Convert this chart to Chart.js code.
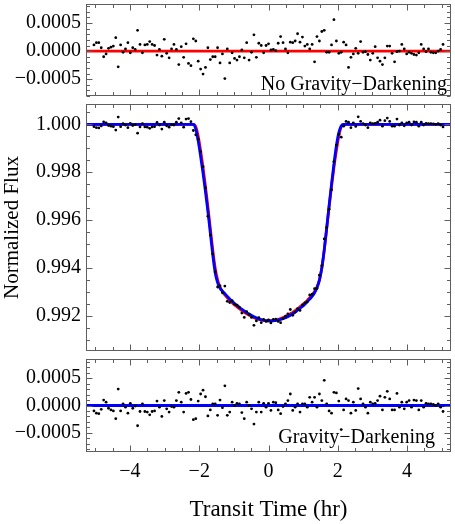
<!DOCTYPE html>
<html><head><meta charset="utf-8">
<script src="https://cdn.jsdelivr.net/npm/chart.js@4"></script>
<style>
html,body{margin:0;padding:0;background:#fff;width:455px;height:524px;overflow:hidden;}
canvas{position:absolute;left:0;}
</style></head><body>
<canvas id="cTop" width="455" height="100" style="top:0px"></canvas>
<canvas id="cMain" width="455" height="255" style="top:100px"></canvas>
<canvas id="cBot" width="455" height="169" style="top:355px"></canvas>
<script>
// ---- data ----
const times = [
-5.04,-4.97,-4.90,-4.83,-4.76,-4.69,-4.62,-4.55,-4.48,-4.41,
-4.34,-4.27,-4.20,-4.13,-4.06,-3.99,-3.92,-3.85,-3.78,-3.71,
-3.64,-3.57,-3.50,-3.43,-3.36,-3.29,-3.22,-3.15,-3.08,-3.01,
-2.94,-2.87,-2.80,-2.73,-2.66,-2.59,-2.52,-2.45,-2.38,-2.31,
-2.24,-2.17,-2.10,-2.03,-1.96,-1.89,-1.82,-1.75,-1.68,-1.61,
-1.54,-1.47,-1.40,-1.33,-1.26,-1.19,-1.12,-1.05,-0.98,-0.91,
-0.84,-0.77,-0.70,-0.63,-0.56,-0.49,-0.42,-0.35,-0.28,-0.21,
-0.14,-0.07,0.00,0.07,0.14,0.21,0.28,0.35,0.42,0.49,
0.56,0.63,0.70,0.77,0.84,0.91,0.98,1.05,1.12,1.19,
1.26,1.33,1.40,1.47,1.54,1.61,1.68,1.75,1.82,1.89,
1.96,2.03,2.10,2.17,2.24,2.31,2.38,2.45,2.52,2.59,
2.66,2.73,2.80,2.87,2.94,3.01,3.08,3.15,3.22,3.29,
3.36,3.43,3.50,3.57,3.64,3.71,3.78,3.85,3.92,3.99,
4.06,4.13,4.20,4.27,4.34,4.41,4.48,4.55,4.62,4.69,
4.76,4.83,4.90,4.97,5.04];

const flux = [
0.99990,0.99986,0.99985,0.99993,1.00010,1.00006,0.99995,0.99992,0.99990,0.99976,
1.00030,0.99990,1.00003,0.99997,0.99986,1.00004,0.99995,0.99999,0.99963,0.99989,
1.00003,0.99989,0.99988,0.99983,0.99989,0.99990,1.00008,0.99997,0.99980,1.00009,
0.99994,0.99988,0.99998,0.99997,1.00009,1.00024,1.00006,0.99988,1.00022,1.00024,
1.00011,0.99974,0.99956,0.99938,0.99886,0.99823,0.99734,0.99616,0.99537,0.99458,
0.99383,0.99320,0.99325,0.99296,0.99324,0.99260,0.99255,0.99263,0.99248,0.99244,
0.99235,0.99211,0.99193,0.99217,0.99205,0.99193,0.99160,0.99178,0.99192,0.99171,
0.99185,0.99176,0.99182,0.99170,0.99185,0.99186,0.99176,0.99171,0.99188,0.99198,
0.99208,0.99226,0.99202,0.99215,0.99229,0.99222,0.99245,0.99254,0.99258,0.99287,
0.99290,0.99313,0.99314,0.99369,0.99409,0.99521,0.99568,0.99645,0.99726,0.99844,
0.99913,0.99958,0.99946,0.99992,1.00012,1.00009,0.99986,1.00006,0.99991,1.00031,
1.00012,1.00003,0.99997,0.99986,1.00006,1.00003,1.00004,1.00009,1.00017,0.99992,
1.00015,1.00026,1.00012,0.99992,0.99992,1.00022,0.99997,1.00006,0.99994,1.00006,
1.00009,0.99997,1.00010,1.00009,0.99992,1.00009,0.99997,1.00004,1.00003,1.00003,
1.00002,1.00000,1.00003,0.99997,0.99989];

const residNoGD = [
1.1e-4,1.5e-4,1.5e-4,0.6e-4,-1.0e-4,-0.5e-4,0.5e-4,0.7e-4,0.9e-4,2.4e-4,
-2.8e-4,1.1e-4,-0.2e-4,0.4e-4,1.5e-4,-0.3e-4,0.6e-4,0.3e-4,3.7e-4,1.2e-4,
-0.3e-4,1.1e-4,1.2e-4,1.7e-4,1.2e-4,1.0e-4,-0.7e-4,0.3e-4,-0.9e-4,2.1e-4,
-0.4e-4,-1.2e-4,0.4e-4,1.2e-4,0.3e-4,-2.4e-4,0.8e-4,-1.1e-4,1.3e-4,-2.2e-4,
-2.6e-4,2.2e-4,1.8e-4,-1.8e-4,-3.2e-4,-4.1e-4,-2.9e-4,0.6e-4,-1.5e-4,-1.0e-4,
-1.0e-4,0.6e-4,-2.1e-4,-0.5e-4,-4.9e-4,0.4e-4,-2.1e-4,-0.3e-4,-1.3e-4,-1.6e-4,
-1.0e-4,0.2e-4,-1.2e-4,1.5e-4,-1.6e-4,-0.2e-4,2.9e-4,-1.1e-4,1.4e-4,1.0e-4,
-0.3e-4,1.0e-4,1.3e-4,0.2e-4,0.3e-4,0.1e-4,1.4e-4,2.6e-4,1.5e-4,0.4e-4,
-0.3e-4,1.6e-4,1.5e-4,1.8e-4,3.1e-4,1.6e-4,2.5e-4,0.9e-4,1.2e-4,0.4e-4,
1.2e-4,-1.9e-4,2.6e-4,1.8e-4,3.5e-4,3.7e-4,-0.2e-4,-0.2e-4,1.1e-4,5.6e-4,
1.8e-4,-0.4e-4,-0.2e-4,1.6e-4,1.1e-4,-2.9e-4,-1.1e-4,-0.5e-4,0.5e-4,-0.4e-4,
1.7e-4,-0.2e-4,-0.1e-4,-0.6e-4,-1.6e-4,-0.4e-4,0.8e-4,-1.2e-4,-1.8e-4,-2.4e-4,
-1.2e-4,0.9e-4,0.9e-4,-0.4e-4,-1.9e-4,-0.1e-4,0.0,1.2e-4,0.4e-4,-0.5e-4,
-0.2e-4,-0.4e-4,-0.6e-4,-0.7e-4,-0.3e-4,1.2e-4,0.4e-4,-0.1e-4,0.4e-4,-0.2e-4,
-0.3e-4,-0.3e-4,0.0,0.3e-4,1.2e-4];

const residGD = [
-1.0e-4,-1.4e-4,-1.5e-4,-0.7e-4,1.0e-4,0.6e-4,-0.5e-4,-0.8e-4,-1.0e-4,-2.4e-4,
3.0e-4,-1.0e-4,0.3e-4,-0.3e-4,-1.4e-4,0.4e-4,-0.5e-4,-0.1e-4,-3.7e-4,-1.1e-4,
0.3e-4,-1.1e-4,-1.2e-4,-1.7e-4,-1.1e-4,-1.0e-4,0.8e-4,-0.3e-4,-2.0e-4,0.9e-4,
-0.6e-4,-1.2e-4,-0.2e-4,-0.3e-4,0.9e-4,2.4e-4,0.6e-4,-1.2e-4,2.2e-4,2.4e-4,
1.1e-4,-2.6e-4,-2.4e-4,0.8e-4,2.1e-4,2.8e-4,1.6e-4,-1.9e-4,-0.8e-4,0.3e-4,
0.3e-4,-1.8e-4,1.0e-4,-0.4e-4,3.6e-4,-1.8e-4,-1.2e-4,0.6e-4,0.0,0.4e-4,
0.3e-4,-1.3e-4,-2.4e-4,0.6e-4,0.0,-0.6e-4,-3.4e-4,-1.2e-4,0.6e-4,-1.2e-4,
0.4e-4,-0.3e-4,0.4e-4,-0.9e-4,0.6e-4,0.5e-4,-0.8e-4,-1.5e-4,-0.2e-4,0.3e-4,
0.9e-4,2.1e-4,-0.9e-4,-0.3e-4,0.3e-4,-1.2e-4,0.3e-4,0.3e-4,-0.3e-4,1.5e-4,
0.6e-4,1.5e-4,-0.3e-4,2.1e-4,0.9e-4,4.6e-4,0.3e-4,-1.0e-4,-1.4e-4,2.4e-4,
2.3e-4,0.8e-4,-4.4e-4,-0.8e-4,1.2e-4,0.9e-4,-1.4e-4,0.6e-4,-0.9e-4,3.1e-4,
1.2e-4,0.3e-4,-0.3e-4,-1.4e-4,0.6e-4,0.3e-4,0.4e-4,0.9e-4,1.7e-4,-0.8e-4,
1.5e-4,2.6e-4,1.2e-4,-0.8e-4,-0.8e-4,2.2e-4,-0.3e-4,0.6e-4,-0.6e-4,0.6e-4,
0.9e-4,-0.3e-4,1.0e-4,0.9e-4,-0.8e-4,0.9e-4,-0.3e-4,0.4e-4,0.3e-4,0.3e-4,
0.2e-4,0.0,0.3e-4,-0.3e-4,-1.1e-4];

const modelTimes = [
-5.27,-2.24,-2.17,-2.10,-2.03,-1.96,-1.89,-1.82,-1.75,-1.68,-1.61,-1.54,-1.47,-1.40,
-1.33,-1.26,-1.19,-1.12,-1.05,-0.98,-0.91,-0.84,-0.77,-0.70,-0.63,-0.56,-0.49,-0.42,
-0.35,-0.28,-0.21,-0.14,-0.07,0.00,0.07,0.14,0.21,0.28,0.35,0.42,0.49,0.56,0.63,0.70,
0.77,0.84,0.91,0.98,1.05,1.12,1.19,1.26,1.33,1.40,1.47,1.54,1.61,1.68,1.75,1.82,1.89,
1.96,2.03,2.10,2.17,2.24,5.27];

const modelNoGD = [
1.00000,1.00000,1.00000,0.99990,0.99950,0.99890,0.99820,0.99740,0.99655,0.99565,0.99475,0.99400,0.99350,0.99320,
0.99301,0.99287,0.99275,0.99264,0.99254,0.99245,0.99237,0.99229,0.99221,0.99214,0.99208,0.99202,0.99197,0.99192,
0.99188,0.99185,0.99182,0.99180,0.99179,0.99178,0.99179,0.99180,0.99182,0.99185,0.99188,0.99192,0.99197,0.99202,0.99208,0.99214,
0.99221,0.99229,0.99237,0.99245,0.99254,0.99264,0.99275,0.99287,0.99301,0.99320,0.99350,0.99400,0.99475,0.99565,0.99655,0.99740,0.99820,
0.99890,0.99950,0.99990,1.00000,1.00000,1.00000];

const modelGD = [
1.00000,1.00000,1.00000,0.99980,0.99930,0.99865,0.99795,0.99718,0.99635,0.99545,0.99455,0.99380,0.99338,0.99315,
0.99303,0.99292,0.99281,0.99270,0.99260,0.99251,0.99243,0.99235,0.99227,0.99220,0.99213,0.99207,0.99201,0.99196,
0.99191,0.99187,0.99184,0.99181,0.99179,0.99178,0.99178,0.99179,0.99180,0.99182,0.99185,0.99188,0.99192,0.99196,0.99202,0.99208,
0.99215,0.99223,0.99231,0.99239,0.99248,0.99258,0.99269,0.99281,0.99296,0.99317,0.99348,0.99400,0.99475,0.99565,0.99660,0.99750,0.99835,
0.99910,0.99965,0.99993,1.00000,1.00000,1.00000];

const zeroTimes = [-5.27, 5.27];
const zeroLine = [0, 0];

const xTicks = [-4, -2, 0, 2, 4];
const xTickLabels = ['\u22124', '\u22122', '0', '2', '4'];
const fluxTicks = [0.992, 0.994, 0.996, 0.998, 1.000];
const fluxTickLabels = ['0.992', '0.994', '0.996', '0.998', '1.000'];
const residTicks = [-0.0005, 0, 0.0005];
const residTickLabels = ['\u22120.0005', '0.0000', '0.0005'];

// ---- rendering ----
const FONT = "'Liberation Serif','Times New Roman',serif";
const X_MIN = -5.27, X_MAX = 5.27;
const pts = (xs, ys) => xs.map((t, i) => ({x: t, y: ys[i]}));

function framePlugin(cfg) {
  return {
    id: 'frameTicks',
    afterDatasetsDraw(chart) {
      const {ctx, chartArea: a, scales: {x, y}} = chart;
      ctx.save();
      ctx.strokeStyle = '#5f5f5f';
      ctx.lineWidth = 1;
      const L = Math.round(a.left) + 0.5, R = Math.round(a.right) - 0.5;
      const T = Math.round(a.top) + 0.5, B = Math.round(a.bottom) - 0.5;
      ctx.beginPath();
      for (let k = -12; k <= 12; k++) {
        const v = k * 0.5;
        if (v < x.min || v > x.max) continue;
        const len = (k % 4 === 0) ? 6 : 3.5;
        const px = Math.round(x.getPixelForValue(v)) + 0.5;
        ctx.moveTo(px, B); ctx.lineTo(px, B - len);
        ctx.moveTo(px, T); ctx.lineTo(px, T + len);
      }
      const k0 = Math.ceil(y.min / cfg.minor - 1e-6), k1 = Math.floor(y.max / cfg.minor + 1e-6);
      for (let k = k0; k <= k1; k++) {
        const v = k * cfg.minor;
        const len = (k % cfg.every === 0) ? 6 : 3.5;
        const py = Math.round(y.getPixelForValue(v)) + 0.5;
        ctx.moveTo(L, py); ctx.lineTo(L + len, py);
        ctx.moveTo(R, py); ctx.lineTo(R - len, py);
      }
      ctx.stroke();
      ctx.strokeRect(L, T, R - L, B - T);
      if (cfg.label) {
        ctx.fillStyle = '#000';
        ctx.font = '20px ' + FONT;
        ctx.textAlign = 'right';
        ctx.textBaseline = 'alphabetic';
        ctx.fillText(cfg.label, cfg.lx, cfg.ly);
      }
      ctx.restore();
    }
  };
}

function makeChart(id, datasets, o) {
  return new Chart(document.getElementById(id), {
    type: 'scatter',
    data: {datasets},
    options: {
      responsive: false, animation: false, devicePixelRatio: 1, events: [],
      layout: {padding: {top: o.padTop, bottom: o.padBottom, left: 0, right: 1}},
      plugins: {legend: {display: false}, tooltip: {enabled: false}},
      scales: {
        x: {
          type: 'linear', min: X_MIN, max: X_MAX, display: !!o.showX,
          grid: {display: false, drawTicks: false}, border: {display: false},
          ticks: {display: !!o.showX, padding: 8, color: '#000', font: {family: FONT, size: 20},
                  maxRotation: 0, callback: (v, i) => xTickLabels[i]},
          afterBuildTicks: s => { s.ticks = xTicks.map(v => ({value: v})); },
          afterFit: s => { s.paddingLeft = 0; s.paddingRight = 0; if (o.showX) s.height = o.xHeight; },
          title: {display: !!o.showX, text: 'Transit Time (hr)', color: '#000',
                  font: {family: FONT, size: 23}, padding: {top: 0, bottom: 0}}
        },
        y: {
          type: 'linear', min: o.yMin, max: o.yMax,
          grid: {display: false, drawTicks: false}, border: {display: false},
          ticks: {padding: 5, color: '#000', font: {family: FONT, size: 20},
                  callback: (v, i) => o.yLabels[i]},
          afterBuildTicks: s => { s.ticks = o.yTicks.map(v => ({value: v})); },
          afterFit: s => { s.width = 86; s.paddingTop = 0; s.paddingBottom = 0; },
          title: {display: !!o.yTitle, text: o.yTitle || '', color: '#000',
                  font: {family: FONT, size: 21}, padding: {top: 0, bottom: 0}}
        }
      }
    },
    plugins: [framePlugin(o.frame)]
  });
}

const dotStyle = {showLine: false, pointRadius: 1.4, pointBackgroundColor: '#000', pointBorderWidth: 0, order: 0};
const lineStyle = c => ({showLine: true, pointRadius: 0, borderColor: c, borderWidth: 2.8,
                        cubicInterpolationMode: 'monotone', fill: false});

makeChart('cTop', [
  Object.assign({data: pts(times, residNoGD)}, dotStyle),
  Object.assign({data: pts(zeroTimes, zeroLine), order: 1}, lineStyle('#ff0000'))
], {padTop: 4, padBottom: 3, yMin: -0.00080, yMax: 0.00084, yTicks: residTicks, yLabels: residTickLabels,
    frame: {minor: 0.0001, every: 5, label: 'No Gravity\u2212Darkening', lx: 447, ly: 90}});

makeChart('cMain', [
  Object.assign({data: pts(times, flux)}, dotStyle),
  Object.assign({data: pts(modelTimes, modelGD), order: 1}, lineStyle('#0000ff')),
  Object.assign({data: pts(modelTimes, modelNoGD), order: 2}, lineStyle('#ff0000'))
], {padTop: 4, padBottom: 4, yMin: 0.990525, yMax: 1.000848, yTicks: fluxTicks, yLabels: fluxTickLabels,
    yTitle: 'Normalized Flux', frame: {minor: 0.0005, every: 4}});

makeChart('cBot', [
  Object.assign({data: pts(times, residGD)}, dotStyle),
  Object.assign({data: pts(zeroTimes, zeroLine), order: 1}, lineStyle('#0000ff'))
], {padTop: 3, padBottom: 0, showX: true, xHeight: 72, yMin: -0.00085, yMax: 0.00085,
    yTicks: residTicks, yLabels: residTickLabels,
    frame: {minor: 0.0001, every: 5, label: 'Gravity\u2212Darkening', lx: 435, ly: 88}});
</script>
</body></html>
